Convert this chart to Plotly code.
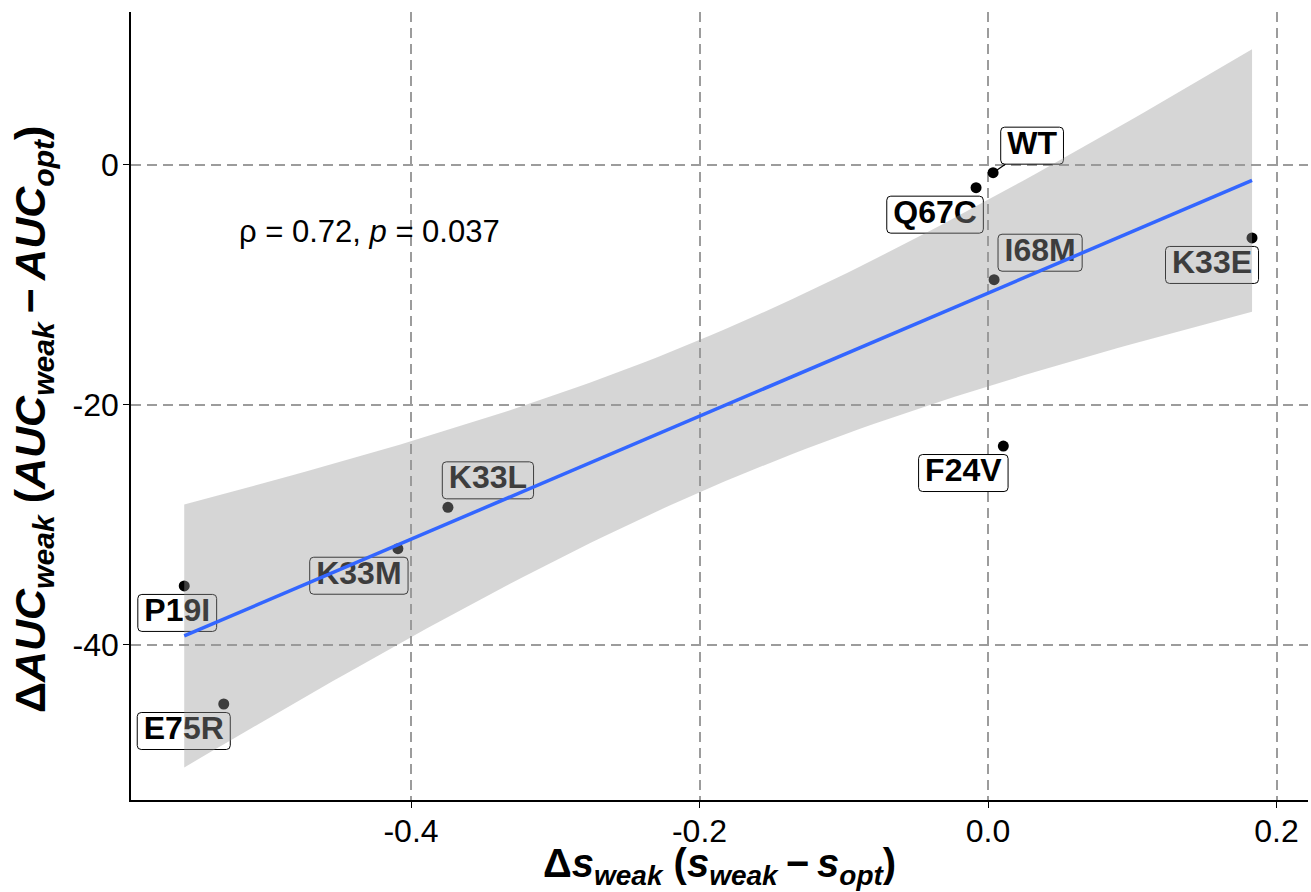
import numpy as np
import plotly.graph_objects as go

# ---- data -------------------------------------------------------------
mutants = ["WT", "Q67C", "I68M", "K33E", "F24V", "K33L", "K33M", "P19I", "E75R"]
delta_s = [0.0035, -0.0083, 0.0042, 0.183, 0.0106, -0.3744, -0.4091, -0.5572, -0.5298]
delta_auc = [-0.64, -1.89, -9.56, -6.08, -23.42, -28.53, -31.98, -35.08, -44.92]

x_tick_vals = [-0.4, -0.2, 0.0, 0.2]
x_tick_text = ["-0.4", "-0.2", "0.0", "0.2"]
y_tick_vals = [-40, -20, 0]
y_tick_text = ["-40", "-20", "0"]

cor_text = "ρ = 0.72, <i>p</i> = 0.037"

# ---- layout constants -------------------------------------------------
W, H = 1311, 892
M_L, M_R, M_T, M_B = 131, 3, 12, 92
X_RANGE = [-0.5941, 0.2218]
Y_RANGE = [-52.92, 12.75]
PLOT_W = W - M_L - M_R
PLOT_H = H - M_T - M_B
PX_X = PLOT_W / (X_RANGE[1] - X_RANGE[0])
PX_Y = PLOT_H / (Y_RANGE[1] - Y_RANGE[0])

# repelled label offsets from each point, in pixels (right, down)
label_dx = [39, -41, 46, -40, -40, 40, -39, -7, -40]
label_dy = [-27, 27, -27, 27, 27, -27, 27, 27, 27]
segment_labels = ["WT"]

LABEL_FONT = 32
LABEL_PAD = 6.5
LABEL_H = 37
CORNER = 4
FONT = "Liberation Sans, Arial, Helvetica, sans-serif"

# approximate bold glyph advance widths (em)
BOLD_W = {"0": .556, "1": .556, "2": .556, "3": .556, "4": .556, "5": .556,
          "6": .556, "7": .556, "8": .556, "9": .556, "K": .722, "L": .611,
          "M": .833, "E": .667, "P": .667, "I": .278, "R": .722, "Q": .778,
          "C": .722, "F": .611, "V": .667, "W": .944, "T": .611}

x = np.array(delta_s)
y = np.array(delta_auc)

# ---- linear fit with 95% confidence band -------------------------------
n = len(x)
xm, ym = x.mean(), y.mean()
sxx = ((x - xm) ** 2).sum()
slope = ((x - xm) * (y - ym)).sum() / sxx
intercept = ym - slope * xm
resid = y - (intercept + slope * x)
s_err = np.sqrt((resid ** 2).sum() / (n - 2))
t_crit = 2.364624  # t(0.975, df = 7)
xg = np.linspace(x.min(), x.max(), 80)
yg = intercept + slope * xg
half = t_crit * s_err * np.sqrt(1 / n + (xg - xm) ** 2 / sxx)
upper, lower = yg + half, yg - half

# ---- label geometry -----------------------------------------------------
lab_x = x + np.array(label_dx) / PX_X
lab_y = y - np.array(label_dy) / PX_Y
box_w = [sum(BOLD_W[c] for c in m) * LABEL_FONT + 2 * LABEL_PAD for m in mutants]


def rounded_rect(w, h, r):
    x0, x1, y0, y1 = -w / 2, w / 2, -h / 2, h / 2
    return (f"M {x0 + r},{y0} L {x1 - r},{y0} Q {x1},{y0} {x1},{y0 + r} "
            f"L {x1},{y1 - r} Q {x1},{y1} {x1 - r},{y1} L {x0 + r},{y1} "
            f"Q {x0},{y1} {x0},{y1 - r} L {x0},{y0 + r} Q {x0},{y0} {x0 + r},{y0} Z")


shapes = []
for i, m in enumerate(mutants):
    shapes.append(dict(
        type="path", layer="between", xref="x", yref="y",
        xsizemode="pixel", ysizemode="pixel",
        xanchor=lab_x[i], yanchor=lab_y[i],
        path=rounded_rect(box_w[i], LABEL_H, CORNER),
        fillcolor="white", line=dict(color="black", width=1),
    ))

fig = go.Figure()

# connector segments from point to label box edge
for i, m in enumerate(mutants):
    if m not in segment_labels:
        continue
    dxp, dyp = label_dx[i], label_dy[i]
    hw, hh = box_w[i] / 2, LABEL_H / 2
    t = 1 - min(hw / abs(dxp) if dxp else 1e9, hh / abs(dyp) if dyp else 1e9)
    ex, ey = x[i] + t * dxp / PX_X, y[i] - t * dyp / PX_Y
    fig.add_trace(go.Scatter(x=[x[i], ex], y=[y[i], ey], mode="lines",
                             line=dict(color="black", width=1.2),
                             hoverinfo="skip", showlegend=False))

# points
fig.add_trace(go.Scatter(x=x, y=y, mode="markers",
                         marker=dict(color="black", size=11, line=dict(width=0)),
                         showlegend=False))

# label text
fig.add_trace(go.Scatter(x=lab_x, y=lab_y, mode="text", text=mutants,
                         textposition="middle center",
                         textfont=dict(family=FONT, size=LABEL_FONT, color="black",
                                       weight="bold"),
                         hoverinfo="skip", showlegend=False))

# confidence band (drawn over labels and points)
fig.add_trace(go.Scatter(x=np.concatenate([xg, xg[::-1]]),
                         y=np.concatenate([upper, lower[::-1]]),
                         mode="lines", fill="toself",
                         fillcolor="rgba(153,153,153,0.4)",
                         line=dict(width=0), hoverinfo="skip", showlegend=False))

# fitted line
fig.add_trace(go.Scatter(x=xg, y=yg, mode="lines",
                         line=dict(color="#3366FF", width=3.5),
                         hoverinfo="skip", showlegend=False))

axis_common = dict(
    showline=True, linecolor="black", linewidth=1.6,
    ticks="outside", ticklen=6, tickwidth=1.4, tickcolor="black",
    showgrid=True, gridcolor="#9c9c9c", gridwidth=1.5, griddash="10px,6px",
    zeroline=False, tickfont=dict(family=FONT, size=32, color="black"),
)

fig.update_layout(
    width=W, height=H,
    margin=dict(l=M_L, r=M_R, t=M_T, b=M_B),
    paper_bgcolor="white", plot_bgcolor="white",
    xaxis=dict(range=X_RANGE, tickvals=x_tick_vals, ticktext=x_tick_text,
               ticklabelstandoff=-4, **axis_common),
    yaxis=dict(range=Y_RANGE, tickvals=y_tick_vals, ticktext=y_tick_text,
               ticklabelstandoff=-2, **axis_common),
    shapes=shapes,
    showlegend=False,
    annotations=[
        dict(text=cor_text, x=-0.5206, y=-5.58, xref="x", yref="y",
             xanchor="left", yanchor="middle", showarrow=False,
             font=dict(family=FONT, size=31, color="black")),
        dict(text="<b>Δ<i>s<sub>weak</sub></i> (<i>s<sub>weak</sub></i>\u2009−\u2009<i>s<sub>opt</sub></i>)</b>",
             x=0.5, y=0, xref="paper", yref="paper", xanchor="center", yanchor="middle",
             yshift=-66, showarrow=False, font=dict(family=FONT, size=40, color="black")),
        dict(text="<b>Δ<i>AUC<sub>weak</sub></i> (<i>AUC<sub>weak</sub></i>\u2009−\u2009<i>AUC<sub>opt</sub></i>)</b>",
             x=0, y=0.5, xref="paper", yref="paper", xanchor="center", yanchor="middle",
             xshift=-98, yshift=-14, textangle=-90, showarrow=False,
             font=dict(family=FONT, size=43, color="black")),
    ],
)

fig.write_html("out.html")
